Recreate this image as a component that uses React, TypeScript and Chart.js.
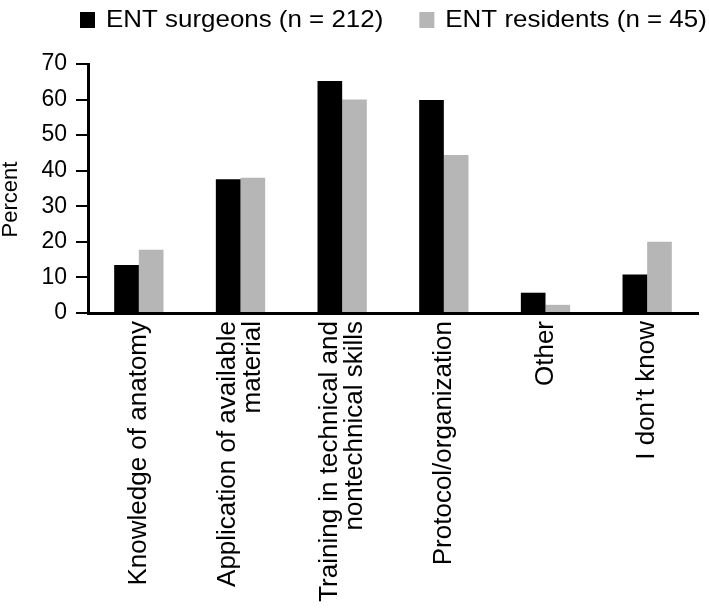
import React, { useEffect, useRef } from "react";
import { Chart, registerables } from "chart.js";

Chart.register(...registerables);

const FONT = "'Liberation Sans', Arial, sans-serif";

const categories: string[][] = [
  ["", "Knowledge of anatomy"],
  ["Application of available", "material"],
  ["Training in technical and", "nontechnical skills"],
  ["", "Protocol/organization"],
  ["", "Other"],
  ["", "I don\u2019t know"],
];

const seriesNames = ["ENT surgeons (n = 212)", "ENT residents (n = 45)"];
const surgeons = [13.5, 37.6, 65.2, 59.9, 5.7, 10.8];
const residents = [17.8, 38.0, 60.0, 44.4, 2.3, 20.0];
const yTicks = [0, 10, 20, 30, 40, 50, 60, 70];
const yTitle = "Percent";

const BLACK = "#000000";
const GRAY = "#b6b6b6";
const LINE_GAP = 25; // spacing between lines of a two-line label

const isMulti = (i: number) => categories[i] && categories[i][0] !== "";

const legendPlugin = {
  id: "topLegend",
  afterDraw(chart: any) {
    const ctx = chart.ctx;
    ctx.save();
    ctx.font = `24px ${FONT}`;
    ctx.textBaseline = "alphabetic";
    ctx.textAlign = "left";
    const sx = 1.08;
    let x = 80;
    chart.data.datasets.forEach((ds: any) => {
      ctx.fillStyle = ds.backgroundColor;
      ctx.fillRect(x, 12, 15, 16);
      ctx.fillStyle = "#000";
      const tx = x + 26;
      ctx.save();
      ctx.translate(tx, 27);
      ctx.scale(sx, 1);
      ctx.fillText(ds.label, 0, 0);
      ctx.restore();
      x = tx + ctx.measureText(ds.label).width * sx + 36;
    });
    // y-axis title
    const yScale = chart.scales.y;
    ctx.save();
    ctx.font = `22px ${FONT}`;
    ctx.textAlign = "center";
    ctx.textBaseline = "middle";
    ctx.translate(11, (yScale.top + yScale.bottom) / 2 + 11);
    ctx.rotate(-Math.PI / 2);
    ctx.fillText(yTitle, 0, 0);
    ctx.restore();
    ctx.restore();
  },
};

export default function App() {
  const ref = useRef<HTMLCanvasElement | null>(null);

  useEffect(() => {
    document.body.style.margin = "0";
    if (!ref.current) return;
    const chart = new Chart(ref.current, {
      type: "bar",
      data: {
        labels: categories,
        datasets: [
          {
            label: seriesNames[0],
            data: surgeons,
            backgroundColor: BLACK,
            categoryPercentage: 0.485,
            barPercentage: 1,
          },
          {
            label: seriesNames[1],
            data: residents,
            backgroundColor: GRAY,
            categoryPercentage: 0.485,
            barPercentage: 1,
          },
        ],
      },
      plugins: [legendPlugin],
      options: {
        animation: false,
        responsive: true,
        maintainAspectRatio: false,
        layout: { padding: { top: 64, right: 11, left: 0, bottom: 0 } },
        plugins: {
          legend: { display: false },
          tooltip: { enabled: false },
        },
        scales: {
          x: {
            grid: { display: false, drawTicks: false },
            border: { display: true, color: BLACK, width: 3 },
            ticks: {
              color: BLACK,
              font: (ctx: any) => ({
                family: FONT,
                size: 26,
                lineHeight: isMulti(ctx.index) ? `${LINE_GAP}px` : `${LINE_GAP / 2}px`,
              }),
              labelOffset: -LINE_GAP / 2,
              maxRotation: 90,
              minRotation: 90,
              autoSkip: false,
              padding: 8,
            },
            afterFit(scale: any) {
              scale.height = 296;
            },
          },
          y: {
            min: 0,
            max: 70,
            afterBuildTicks(scale: any) {
              scale.ticks = yTicks.map((v) => ({ value: v }));
            },
            grid: {
              display: true,
              drawOnChartArea: false,
              drawTicks: true,
              tickLength: 12,
              color: BLACK,
              lineWidth: 2,
            },
            border: { display: true, color: BLACK, width: 3 },
            ticks: {
              color: BLACK,
              font: { family: FONT, size: 23 },
              padding: 9,
            },
            title: { display: false, text: yTitle },
            afterFit(scale: any) {
              scale.width = 88;
            },
          },
        },
      },
    });
    return () => chart.destroy();
  }, []);

  return (
    <div style={{ width: 709, height: 609, position: "relative" }}>
      <canvas ref={ref} />
    </div>
  );
}
